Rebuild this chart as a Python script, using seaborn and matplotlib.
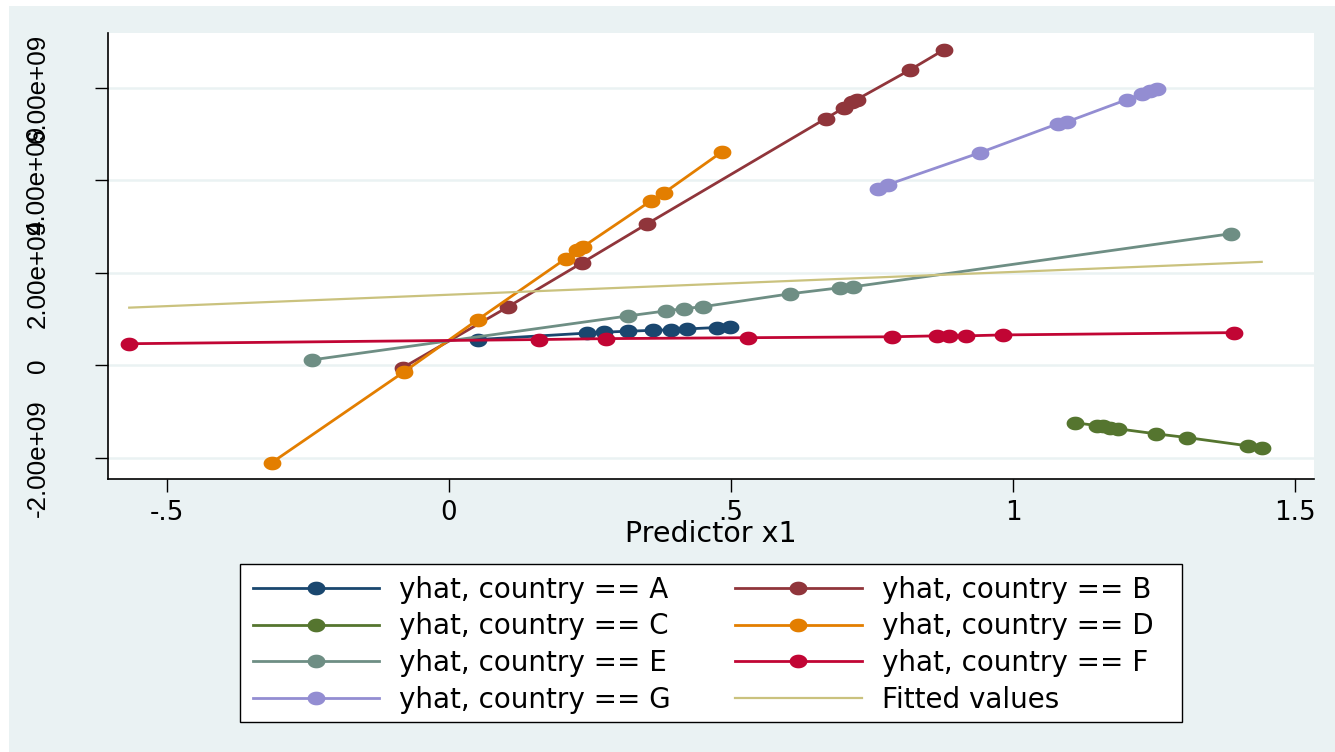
import numpy as np
import pandas as pd
import matplotlib
matplotlib.use("Agg")
import matplotlib.pyplot as plt
from matplotlib.path import Path
from matplotlib.patches import Rectangle
import seaborn as sns

# Predictor x1 and predicted values (yhat, billions) for each country
x_a = [0.051, 0.245, 0.275, 0.317, 0.362, 0.394, 0.422, 0.475, 0.498]
y_a = [0.56, 0.70, 0.72, 0.74, 0.76, 0.77, 0.79, 0.82, 0.83]

x_b = [-0.082, 0.105, 0.236, 0.351, 0.668, 0.700, 0.715, 0.723, 0.817, 0.878]
y_b = [-0.05, 1.27, 2.22, 3.06, 5.34, 5.57, 5.70, 5.75, 6.39, 6.83]

x_c = [1.110, 1.149, 1.160, 1.172, 1.186, 1.254, 1.309, 1.417, 1.441]
y_c = [-1.24, -1.30, -1.32, -1.35, -1.37, -1.48, -1.56, -1.74, -1.78]

x_d = [-0.314, -0.080, 0.051, 0.207, 0.227, 0.238, 0.358, 0.381, 0.484]
y_d = [-2.10, -0.14, 0.99, 2.31, 2.50, 2.57, 3.56, 3.73, 4.62]

x_e = [-0.243, 0.317, 0.385, 0.417, 0.450, 0.605, 0.693, 0.716, 1.387]
y_e = [0.12, 1.07, 1.18, 1.23, 1.27, 1.55, 1.68, 1.70, 2.85]

x_f = [-0.567, 0.160, 0.278, 0.530, 0.785, 0.865, 0.887, 0.917, 0.982, 1.392]
y_f = [0.47, 0.56, 0.58, 0.60, 0.62, 0.64, 0.64, 0.64, 0.66, 0.71]

x_g = [0.761, 0.778, 0.941, 1.080, 1.096, 1.202, 1.229, 1.243, 1.255]
y_g = [3.82, 3.91, 4.60, 5.23, 5.27, 5.75, 5.88, 5.94, 5.98]

# Pooled linear fit over all observations
x_fit = [-0.567, 1.441]
y_fit = [1.25, 2.24]

countries = ["A", "B", "C", "D", "E", "F", "G"]
xs = [x_a, x_b, x_c, x_d, x_e, x_f, x_g]
ys = [y_a, y_b, y_c, y_d, y_e, y_f, y_g]

y_ticks = [-2e9, 0, 2e9, 4e9, 6e9]
y_ticklabels = ["-2.00e+09", "0", "2.00e+09", "4.00e+09", "6.00e+09"]
x_ticks = [-0.5, 0, 0.5, 1, 1.5]
x_ticklabels = ["-.5", "0", ".5", "1", "1.5"]

palette = {
    "A": "#1a476f", "B": "#90353b", "C": "#55752f", "D": "#e37e00",
    "E": "#6e8e84", "F": "#c10534", "G": "#938dd2",
}
fit_color = "#cac27e"
region_color = "#eaf2f3"

df = pd.concat(
    [pd.DataFrame({"x1": x, "yhat": np.array(y) * 1e9, "country": c})
     for c, x, y in zip(countries, xs, ys)],
    ignore_index=True,
)
fit_df = pd.DataFrame({"x1": x_fit, "yhat": np.array(y_fit) * 1e9})

# Slightly flattened disc used as the marker symbol
t = np.linspace(0, 2 * np.pi, 72)
ellipse = Path(np.column_stack([np.cos(t), 0.77 * np.sin(t)]), closed=True)

W, H = 1335, 752
fig = plt.figure(figsize=(W / 100, H / 100), dpi=100, facecolor="white")
fig.add_artist(Rectangle((9 / W, 0), 1, 1 - 6 / H, transform=fig.transFigure,
                         facecolor=region_color, edgecolor="none", zorder=-10))

ax = fig.add_axes([108 / W, 1 - 479 / H, (1314 - 108) / W, (479 - 33) / H])
ax.set_facecolor("white")

sns.lineplot(data=df, x="x1", y="yhat", hue="country", hue_order=countries,
             palette=palette, estimator=None, sort=True, legend=False,
             marker=ellipse, markersize=12.8, markeredgewidth=0,
             linewidth=2.0, ax=ax)
sns.lineplot(data=fit_df, x="x1", y="yhat", color=fit_color, linewidth=1.6,
             estimator=None, legend=False, ax=ax)

ax.set_xlim(-0.6046, 1.5337)
ax.set_ylim(-2.456e9, 7.19e9)

ax.set_yticks(y_ticks)
ax.set_yticklabels(y_ticklabels, rotation=90, va="center",
                   fontfamily="Liberation Sans", fontsize=18.7)
ax.set_xticks(x_ticks)
ax.set_xticklabels(x_ticklabels, fontfamily="DejaVu Sans", fontsize=18.8)
ax.tick_params(axis="both", direction="out", length=9.4, width=1.0,
               color="black", labelcolor="black")
ax.tick_params(axis="y", pad=32.5)
ax.tick_params(axis="x", pad=6.0)

ax.grid(axis="y", color=region_color, linewidth=1.8)
ax.grid(axis="x", visible=False)
ax.set_axisbelow(True)

for side in ("top", "right"):
    ax.spines[side].set_visible(False)
for side in ("left", "bottom"):
    ax.spines[side].set_color("black")
    ax.spines[side].set_linewidth(1.2)

ax.set_ylabel("")
ax.set_xlabel("Predictor x1", fontfamily="DejaVu Sans", fontsize=20.5)
ax.xaxis.set_label_coords(0.5, -(520 - 479) / (479 - 33))

# Legend box drawn as a fixed white panel; entries laid out inside it
fig.add_artist(Rectangle((240 / W, 1 - 722 / H), (1182 - 240) / W,
                         (722 - 564) / H, transform=fig.transFigure,
                         facecolor="white", edgecolor="black",
                         linewidth=1.0, zorder=4))

lines = ax.get_lines()
labels = [f"yhat, country == {c}" for c in countries] + ["Fitted values"]
order = [0, 2, 4, 6, 1, 3, 5, 7]
leg = fig.legend([lines[i] for i in order], [labels[i] for i in order],
                 loc="upper left", bbox_to_anchor=(241 / W, 1 - 564 / H),
                 ncol=2, frameon=False,
                 prop={"family": "DejaVu Sans", "size": 20},
                 handlelength=4.55, handletextpad=0.72, columnspacing=2.32,
                 labelspacing=0.31, borderpad=0.42, borderaxespad=0)
leg.set_zorder(5)

fig.savefig("out.png", dpi=100, facecolor=fig.get_facecolor())
